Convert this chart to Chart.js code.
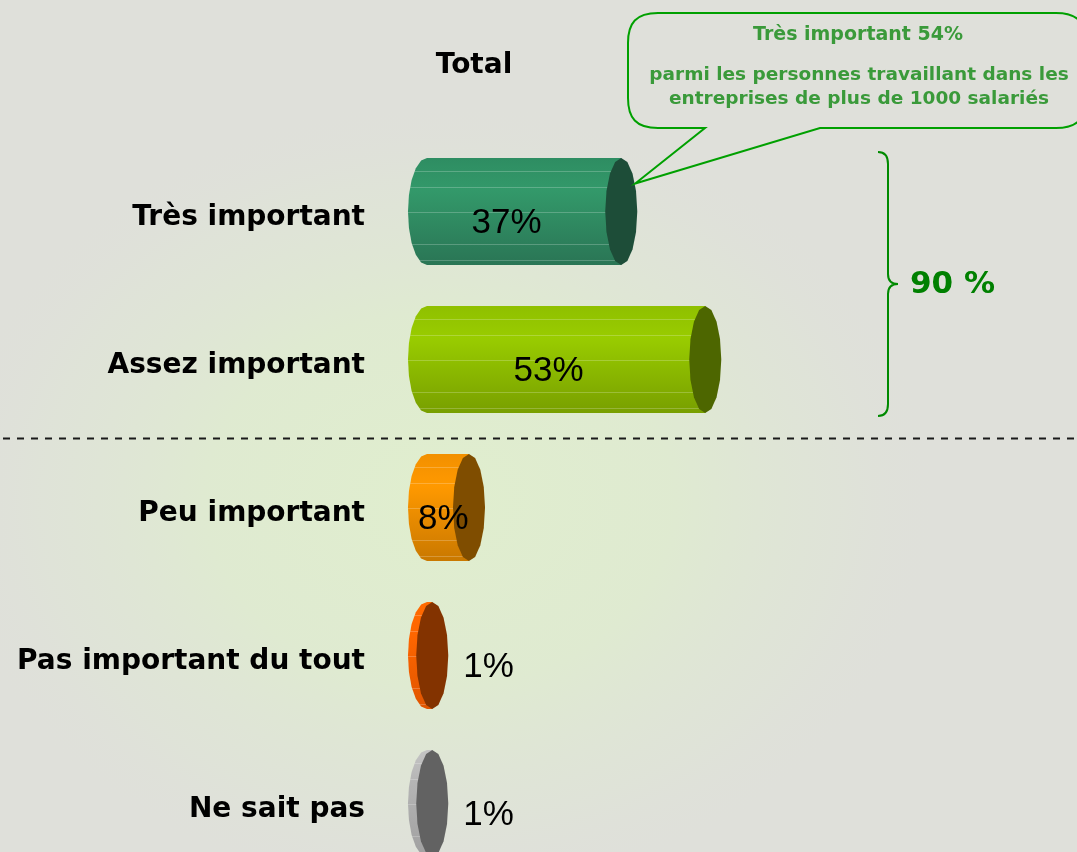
<!DOCTYPE html>
<html><head><meta charset="utf-8">
<script src="https://cdn.jsdelivr.net/npm/chart.js@4.4.1/dist/chart.umd.min.js"></script>
<style>
html,body{margin:0;padding:0;overflow:hidden;background:#dfe0da;}
#wrap{width:1077px;height:900px;position:relative;}
canvas{display:block;}
</style></head><body>
<div id="wrap"><canvas id="c" width="1077" height="900"></canvas></div>
<script>
// ---- data ----
const categories = ['Très important', 'Assez important', 'Peu important', 'Pas important du tout', 'Ne sait pas'];
const values = [37, 53, 8, 1, 1];
const valueLabels = ['37%', '53%', '8%', '1%', '1%'];
const chartTitle = 'Total';
const braceLabel = '90 %';
const calloutLines = ['Très important 54%', 'parmi les personnes travaillant dans les', 'entreprises de plus de 1000 salariés'];

// ---- styles ----
const bodyTop = ['#2e8d62', '#8fc000', '#f29000', '#ff6a00', '#c4c4c4'];
const bodyMid = ['#33996a', '#99cc00', '#ff9900', '#ff6600', '#b5b5b5'];
const bodyBottom = ['#2a7555', '#789f00', '#c97800', '#e05500', '#a0a0a0'];
const capColors = ['#1d4d38', '#4d6600', '#7f4d00', '#833300', '#626262'];
const CAP_RX = 16;
const BACK_RX = 19;

function ellipsePoly(ctx, cx, cy, rx, ry, a0, a1, n) {
  for (let k = 0; k <= n; k++) {
    const a = a0 + (a1 - a0) * k / n;
    ctx.lineTo(cx + rx * Math.cos(a), cy + ry * Math.sin(a));
  }
}

const bgPlugin = {
  id: 'bg',
  beforeDraw(chart) {
    const ctx = chart.ctx, w = chart.width, h = chart.height;
    ctx.save();
    ctx.fillStyle = '#dfe0da';
    ctx.fillRect(0, 0, w, h);
    ctx.translate(440, 500);
    ctx.scale(1.25, 1);
    const g = ctx.createRadialGradient(0, 0, 10, 0, 0, 400);
    g.addColorStop(0, 'rgba(224,238,206,1)');
    g.addColorStop(0.45, 'rgba(223,236,207,0.85)');
    g.addColorStop(0.8, 'rgba(223,232,212,0.35)');
    g.addColorStop(1, 'rgba(223,224,218,0)');
    ctx.fillStyle = g;
    ctx.fillRect(-600, -600, 1200, 1200);
    ctx.restore();
  }
};

const cylPlugin = {
  id: 'cyl',
  afterDatasetsDraw(chart) {
    const ctx = chart.ctx;
    const meta = chart.getDatasetMeta(0);
    const els = meta.data;
    ctx.save();
    els.forEach((el, i) => {
      const p = el.getProps(['x', 'y', 'base', 'height'], true);
      const base = p.base, x = p.x, y = p.y, ry = p.height / 2;
      const top = y - ry, bot = y + ry, rx = CAP_RX;
      // body
      ctx.beginPath();
      ctx.moveTo(x, top);
      ctx.lineTo(base, top);
      ellipsePoly(ctx, base, y, BACK_RX, ry, -Math.PI / 2, -3 * Math.PI / 2, 10);
      ctx.lineTo(x, bot);
      ctx.closePath();
      const g = ctx.createLinearGradient(0, top, 0, bot);
      g.addColorStop(0, bodyTop[i]);
      g.addColorStop(0.3, bodyMid[i]);
      g.addColorStop(1, bodyBottom[i]);
      ctx.fillStyle = g;
      ctx.fill();
      // faint highlight lines
      ctx.save();
      ctx.clip();
      ctx.strokeStyle = 'rgba(255,255,255,0.22)';
      ctx.lineWidth = 1;
      [0.12, 0.27, 0.5, 0.8, 0.95].forEach(f => {
        const yy = Math.round(top + f * p.height) + 0.5;
        ctx.beginPath(); ctx.moveTo(base - BACK_RX, yy); ctx.lineTo(x, yy); ctx.stroke();
      });
      ctx.restore();
      // cap
      ctx.beginPath();
      ellipsePoly(ctx, x, y, rx, ry, 0, 2 * Math.PI, 16);
      ctx.closePath();
      ctx.fillStyle = capColors[i];
      ctx.fill();
      // value label
      ctx.fillStyle = '#000';
      ctx.font = '35px "Liberation Sans", Arial, sans-serif';
      ctx.textBaseline = 'alphabetic';
      const txt = valueLabels[i];
      const tw = ctx.measureText(txt).width;
      if (values[i] >= 5) {
        const left = base - BACK_RX, capLeft = x - rx;
        const cx = Math.max((left + capLeft) / 2, left + 10 + tw / 2);
        ctx.textAlign = 'center';
        ctx.fillText(txt, cx, y + 21.5);
      } else {
        ctx.textAlign = 'left';
        ctx.fillText(txt, x + rx + 15, y + 21.5);
      }
    });
    ctx.restore();

    // title
    ctx.save();
    ctx.fillStyle = '#000';
    ctx.font = 'bold 28px "DejaVu Sans", sans-serif';
    ctx.textAlign = 'center';
    ctx.textBaseline = 'alphabetic';
    ctx.fillText(chartTitle, 474, 73);

    // dashed separator between 2nd and 3rd categories
    const ys = chart.scales.y;
    const sepY = Math.round((ys.getPixelForValue(1) + ys.getPixelForValue(2)) / 2 + 4) + 0.5;
    ctx.strokeStyle = '#1a1a1a';
    ctx.lineWidth = 2;
    ctx.setLineDash([7, 7]);
    ctx.beginPath();
    ctx.moveTo(3, sepY); ctx.lineTo(1077, sepY); ctx.stroke();
    ctx.setLineDash([]);

    // brace
    const p0 = els[0].getProps(['y', 'height'], true);
    const p1 = els[1].getProps(['y', 'height'], true);
    const bTop = p0.y - p0.height / 2 - 6, bBot = p1.y + p1.height / 2 + 3;
    const bMid = (bTop + bBot) / 2;
    const bx = 888, ex = 878, tipx = 898;
    ctx.strokeStyle = '#008a00';
    ctx.lineWidth = 2;
    ctx.beginPath();
    ctx.moveTo(ex, bTop);
    ctx.quadraticCurveTo(bx, bTop, bx, bTop + 12);
    ctx.lineTo(bx, bMid - 10);
    ctx.quadraticCurveTo(bx, bMid, tipx, bMid);
    ctx.quadraticCurveTo(bx, bMid, bx, bMid + 10);
    ctx.lineTo(bx, bBot - 12);
    ctx.quadraticCurveTo(bx, bBot, ex, bBot);
    ctx.stroke();
    ctx.fillStyle = '#008000';
    ctx.font = 'bold 31px "DejaVu Sans", sans-serif';
    ctx.textAlign = 'left';
    ctx.fillText(braceLabel, 910, bMid + 9);

    // callout
    const e0 = els[0].getProps(['x', 'y', 'height'], true);
    const tipX = e0.x + 14, tipY = e0.y - 28;
    const L = 628, T = 13, R = 1086, B = 128;
    ctx.strokeStyle = '#00a000';
    ctx.lineWidth = 2;
    ctx.beginPath();
    ctx.moveTo(L + 30, T);
    ctx.lineTo(R - 30, T);
    ctx.bezierCurveTo(R - 8, T, R, T + 10, R, T + 30);
    ctx.lineTo(R, B - 30);
    ctx.bezierCurveTo(R, B - 10, R - 8, B, R - 30, B);
    ctx.lineTo(820, B);
    ctx.lineTo(tipX, tipY);
    ctx.lineTo(705, B);
    ctx.lineTo(L + 30, B);
    ctx.bezierCurveTo(L + 8, B, L, B - 10, L, B - 30);
    ctx.lineTo(L, T + 30);
    ctx.bezierCurveTo(L, T + 10, L + 8, T, L + 30, T);
    ctx.closePath();
    ctx.stroke();
    ctx.fillStyle = '#3a9a3a';
    ctx.font = 'bold 19px "DejaVu Sans", sans-serif';
    ctx.textAlign = 'center';
    ctx.fillText(calloutLines[0], 858, 40);
    ctx.font = 'bold 18.5px "DejaVu Sans", sans-serif';
    ctx.fillText(calloutLines[1], 859, 80);
    ctx.fillText(calloutLines[2], 859, 104);
    ctx.restore();
  }
};

new Chart(document.getElementById('c'), {
  type: 'bar',
  data: {
    labels: categories,
    datasets: [{
      data: values,
      backgroundColor: 'rgba(0,0,0,0)',
      borderWidth: 0,
      barPercentage: 0.723,
      categoryPercentage: 1
    }]
  },
  options: {
    indexAxis: 'y',
    responsive: false,
    animation: false,
    events: [],
    layout: { padding: { left: 0, right: 125, top: 137.5, bottom: 22.5 } },
    plugins: { legend: { display: false }, tooltip: { enabled: false }, title: { display: false } },
    scales: {
      x: { display: false, min: 0, max: 100 },
      y: {
        grid: { display: false, drawTicks: false },
        border: { display: false },
        ticks: {
          color: '#000',
          font: { family: '"DejaVu Sans", sans-serif', size: 28, weight: 'bold' },
          padding: 62,
          labelOffset: 6
        },
        afterFit(scale) {
          scale.width = 427;
          scale.paddingTop = 0;
          scale.paddingBottom = 0;
        }
      }
    }
  },
  plugins: [bgPlugin, cylPlugin]
});
</script>
</body></html>
